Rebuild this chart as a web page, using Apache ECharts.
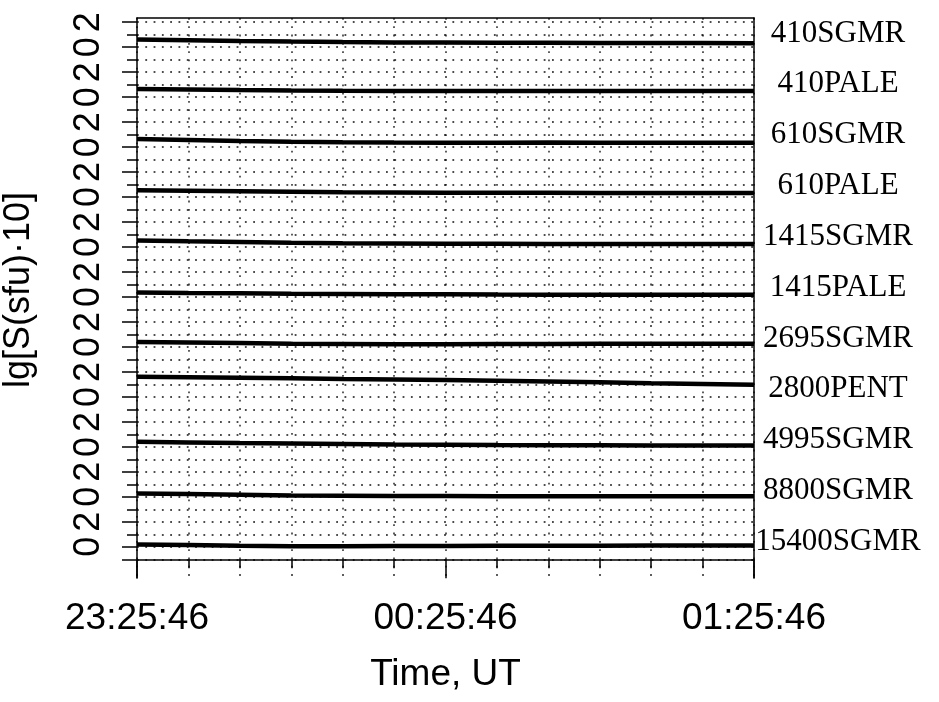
<!DOCTYPE html>
<html>
<head>
<meta charset="utf-8">
<title>Radio flux records</title>
<script src="https://cdn.jsdelivr.net/npm/echarts@6/dist/echarts.min.js"></script>
<style>
  html, body { margin: 0; padding: 0; background: #fff; }
  #chart { width: 939px; height: 702px; }
</style>
</head>
<body>
<div id="chart"></div>
<script>
// minutes after 23:25:46 UT
var minutes = [0, 10, 20, 30, 40, 50, 60, 70, 80, 90, 100, 110, 120];

// lg[S(sfu)*10] relative to each record's own zero
var s410SGMR   = [0.62, 0.56, 0.50, 0.45, 0.41, 0.38, 0.37, 0.36, 0.36, 0.34, 0.34, 0.33, 0.32];
var s410PALE   = [0.66, 0.62, 0.57, 0.53, 0.51, 0.50, 0.50, 0.50, 0.50, 0.50, 0.50, 0.50, 0.49];
var s610SGMR   = [0.66, 0.58, 0.50, 0.44, 0.39, 0.37, 0.36, 0.36, 0.37, 0.36, 0.35, 0.36, 0.36];
var s610PALE   = [0.54, 0.50, 0.46, 0.42, 0.38, 0.36, 0.34, 0.34, 0.34, 0.33, 0.33, 0.32, 0.32];
var s1415SGMR  = [0.53, 0.46, 0.40, 0.34, 0.30, 0.28, 0.26, 0.26, 0.25, 0.25, 0.24, 0.24, 0.24];
var s1415PALE  = [0.37, 0.33, 0.30, 0.26, 0.24, 0.22, 0.22, 0.20, 0.19, 0.18, 0.18, 0.18, 0.18];
var s2695SGMR  = [0.40, 0.36, 0.31, 0.26, 0.24, 0.22, 0.22, 0.23, 0.24, 0.25, 0.26, 0.26, 0.26];
var s2800PENT  = [1.62, 1.58, 1.54, 1.49, 1.44, 1.40, 1.36, 1.30, 1.24, 1.18, 1.10, 1.04, 0.98];
var s4995SGMR  = [0.40, 0.35, 0.30, 0.26, 0.22, 0.18, 0.16, 0.14, 0.13, 0.12, 0.11, 0.10, 0.10];
var s8800SGMR  = [0.26, 0.22, 0.16, 0.10, 0.08, 0.06, 0.06, 0.05, 0.05, 0.05, 0.05, 0.05, 0.05];
var s15400SGMR = [0.18, 0.14, 0.09, 0.05, 0.04, 0.06, 0.07, 0.08, 0.09, 0.09, 0.10, 0.10, 0.10];

// top to bottom
var stations = ['410SGMR', '410PALE', '610SGMR', '610PALE', '1415SGMR', '1415PALE',
                '2695SGMR', '2800PENT', '4995SGMR', '8800SGMR', '15400SGMR'];
var records = [s410SGMR, s410PALE, s610SGMR, s610PALE, s1415SGMR, s1415PALE,
               s2695SGMR, s2800PENT, s4995SGMR, s8800SGMR, s15400SGMR];

var timeTicks = [0, 60, 120];
var timeLabels = ['23:25:46', '00:25:46', '01:25:46'];
var levelLabels = ['0', '2'];

var chart = echarts.init(document.getElementById('chart'));

var n = stations.length;
var step = 4; // records are stacked 4 units apart
var yMin = -1.5, yMax = 43.34;
function base(i) { return 1 + step * (n - 1 - i); }

var oddTicks = [], evenTicks = [];
for (var v = 1; v <= 43; v++) (v % 2 ? oddTicks : evenTicks).push(v);
var namePos = stations.map(function (s, i) { return base(i) + 0.4 + 0.07 * (n - 1 - i); });

var dotted = { color: '#000', width: 1.8, type: [1.8, 6.5], opacity: 0.7 };
var sans = 'Liberation Sans, Arial, sans-serif';

var series = stations.map(function (name, i) {
  return {
    name: name,
    type: 'line',
    xAxisIndex: 0,
    yAxisIndex: 0,
    symbol: 'none',
    z: 5,
    lineStyle: { color: '#000', width: 4.5 },
    data: minutes.map(function (m, j) { return [m, base(i) + records[i][j]]; })
  };
});

chart.setOption({
  animation: false,
  backgroundColor: '#fff',
  grid: { left: 137, right: 185, top: 18, bottom: 124, outerBoundsMode: 'none', containLabel: false },
  xAxis: [
    {
      type: 'value',
      min: 0,
      max: 120,
      interval: 60,
      position: 'bottom',
      axisLine: { onZero: true, onZeroAxisIndex: 0, lineStyle: { color: '#000', width: 1.5 } },
      axisTick: { length: 19, lineStyle: { color: '#000', width: 1.5 } },
      minorTick: { show: true, splitNumber: 6, length: 9, lineStyle: { color: '#000', width: 1.5 } },
      axisLabel: {
        margin: 22,
        color: '#000',
        fontSize: 37,
        fontFamily: sans,
        formatter: function (val) {
          var k = timeTicks.indexOf(val);
          return k < 0 ? '' : timeLabels[k];
        }
      },
      splitLine: { show: true, lineStyle: dotted },
      minorSplitLine: { show: true, lineStyle: dotted },
      name: 'Time, UT',
      nameLocation: 'middle',
      nameGap: 78,
      nameTextStyle: { color: '#000', fontSize: 37, fontFamily: sans }
    },
    {
      type: 'value',
      min: 0,
      max: 120,
      position: 'top',
      axisLine: { show: true, onZero: false, lineStyle: { color: '#000', width: 1.5 } },
      axisTick: { show: false },
      axisLabel: { show: false },
      splitLine: { show: false }
    }
  ],
  yAxis: [
    {
      type: 'value',
      min: yMin,
      max: yMax,
      position: 'left',
      axisLine: { show: true, onZero: false, lineStyle: { color: '#000', width: 1.5 } },
      axisTick: { show: true, customValues: [0].concat(oddTicks), length: 15, lineStyle: { color: '#000', width: 1.5 } },
      axisLabel: {
        customValues: oddTicks,
        rotate: 90,
        margin: 30,
        color: '#000',
        fontSize: 36,
        fontFamily: sans,
        formatter: function (val) { return levelLabels[((val - 1) % step) / 2]; }
      },
      splitLine: { show: true, lineStyle: dotted },
      name: 'lg[S(sfu)·10]',
      nameLocation: 'middle',
      nameRotate: 90,
      nameGap: 100,
      nameTextStyle: { color: '#000', fontSize: 36, fontFamily: sans, padding: [0, 0, 0, 16] }
    },
    {
      type: 'value',
      min: yMin,
      max: yMax,
      position: 'right',
      axisLine: { show: true, onZero: false, lineStyle: { color: '#000', width: 1.5 } },
      axisTick: { show: false },
      axisLabel: {
        customValues: namePos,
        align: 'center',
        margin: 84,
        color: '#000',
        fontSize: 31,
        fontFamily: 'Liberation Serif, Times New Roman, serif',
        formatter: function (val) {
          for (var i = 0; i < n; i++) if (Math.abs(namePos[i] - val) < 1e-6) return stations[i];
          return '';
        }
      },
      splitLine: { show: false }
    },
    {
      type: 'value',
      min: yMin,
      max: yMax,
      position: 'left',
      axisLine: { show: false, onZero: false },
      axisTick: { show: true, customValues: evenTicks, length: 10, lineStyle: { color: '#000', width: 1.5 } },
      axisLabel: { show: false },
      splitLine: { show: true, lineStyle: dotted }
    }
  ],
  series: series
});
</script>
</body>
</html>
